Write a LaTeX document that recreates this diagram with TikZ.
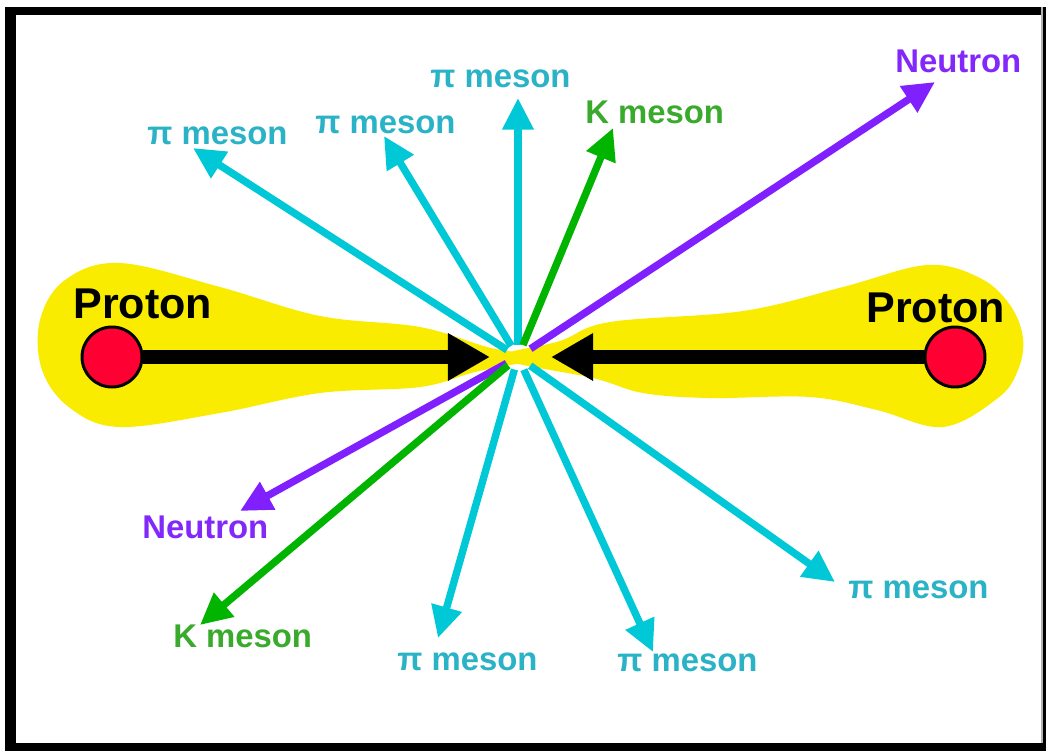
\documentclass[tikz,border=0pt]{standalone}
\usepackage{fontspec}
\setmainfont{Liberation Sans}
\usetikzlibrary{arrows.meta, calc}

\definecolor{pionc}{RGB}{0,200,215}
\definecolor{piontext}{RGB}{42,178,198}
\definecolor{kaonc}{RGB}{0,180,0}
\definecolor{kaontext}{RGB}{58,170,44}
\definecolor{neutc}{RGB}{128,32,255}
\definecolor{neuttext}{RGB}{130,40,250}
\definecolor{blobc}{RGB}{249,236,0}
\definecolor{protc}{RGB}{255,0,51}

\begin{document}
\begin{tikzpicture}[
        x=0.02cm, y=-0.02cm,
        pitrack/.style={draw=pionc, line width=4.2pt, -{Triangle[length=18pt, width=17pt]}},
        ktrack/.style={draw=kaonc, line width=4.2pt, -{Triangle[length=18pt, width=17pt]}},
        ntrack/.style={draw=neutc, line width=4.2pt, -{Triangle[length=18pt, width=17pt]}},
        beam/.style={draw=black, line width=8.5pt, -{Triangle[length=24pt, width=25.5pt]}},
        proton/.style={circle, draw=black, line width=1.7pt, fill=protc,
                       minimum size=1.2cm, inner sep=0pt},
        tag/.style={inner sep=0pt, anchor=base west, font=\bfseries\fontsize{18.7}{20}\selectfont},
        pilabel/.style={tag, text=piontext},
        klabel/.style={tag, text=kaontext},
        nlabel/.style={tag, text=neuttext},
        plabel/.style={inner sep=0pt, anchor=base west, font=\bfseries\fontsize{24.5}{26}\selectfont}
    ]
        \useasboundingbox (0,0) rectangle (1046,751);
        % frame
        \fill[black] (5,7) rectangle (1046,751);
        \fill[white] (16,15) rectangle (1042,743);
        \draw[gray!60, line width=0.6pt] (1042,7) -- (1042,743);

        % yellow clouds round the beams
        \fill[blobc] plot[smooth cycle, tension=0.6] coordinates {
            (536,358) (487,347) (420,327) (320,316) (220,287) (120,263) (65,280)
            (40,320) (42,370) (70,408) (120,427) (220,413) (320,393) (420,387) (475,372)};
        \fill[blobc] plot[smooth cycle, tension=0.6] coordinates {
            (500,358) (560,341) (610,322) (743,311) (843,287) (927,265) (980,278)
            (1010,305) (1023,338) (1018,370) (998,398) (943,427) (877,410) (810,397)
            (710,398) (643,393) (593,378)};

        % collision point and track ends
        \coordinate (c) at (518,357);
        \coordinate (t1) at (193,148);
        \coordinate (t2) at (384,136);
        \coordinate (t3) at (518,98);
        \coordinate (t4) at (613,128);
        \coordinate (t5) at (935,82);
        \coordinate (t6) at (240,511);
        \coordinate (t7) at (200,625);
        \coordinate (t8) at (438,638);
        \coordinate (t9) at (653,652);
        \coordinate (t10) at (835,582);

        \draw[pitrack] ($(c)!0.26cm!(t1)$) -- (t1);
        \draw[pitrack] ($(c)!0.26cm!(t2)$) -- (t2);
        \draw[pitrack] ($(c)!0.24cm!(t3)$) -- (t3);
        \draw[ktrack] ($(c)!0.26cm!(t4)$) -- (t4);
        \draw[ntrack] ($(c)!0.3cm!(t5)$) -- (t5);
        \draw[ntrack] ($(c)!0.26cm!(t6)$) -- (t6);
        \draw[ktrack] ($(c)!0.26cm!(t7)$) -- (t7);
        \draw[pitrack] ($(c)!0.26cm!(t8)$) -- (t8);
        \draw[pitrack] ($(c)!0.28cm!(t9)$) -- (t9);
        \draw[pitrack] ($(c)!0.3cm!(t10)$) -- (t10);

        % labels
        \node[pilabel] (l1) at (147,144) {π meson};
        \node[pilabel] (l2) at (315,133) {π meson};
        \node[pilabel] (l3) at (430,87) {π meson};
        \node[klabel] (l4) at (585,123) {K meson};
        \node[nlabel] (l5) at (895,72) {Neutron};
        \node[nlabel] (l6) at (142,538) {Neutron};
        \node[klabel] (l7) at (173,647) {K meson};
        \node[pilabel] (l8) at (397,670) {π meson};
        \node[pilabel] (l9) at (617,671) {π meson};
        \node[pilabel] (l10) at (848,598) {π meson};

        % beams
        \node[proton] (pL) at (112,357) {};
        \node[proton] (pR) at (955,357) {};
        \coordinate (bL) at (490,357);
        \coordinate (bR) at (551,357);
        \draw[beam] (pL) -- (bL);
        \draw[beam] (pR) -- (bR);
        \node[plabel] (nL) at (73,318) {Proton};
        \node[plabel] (nR) at (866,322) {Proton};
\end{tikzpicture}
\end{document}
